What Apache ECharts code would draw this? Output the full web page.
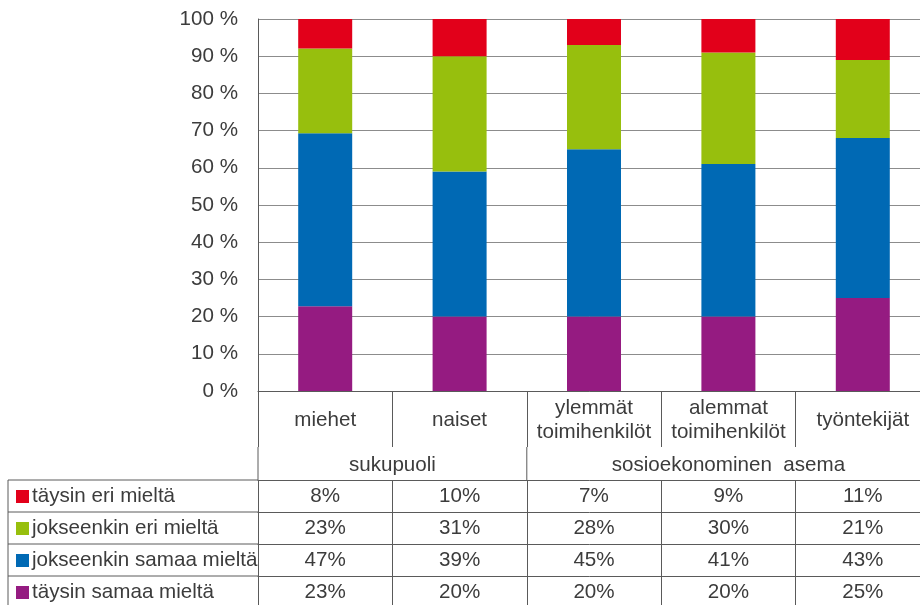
<!DOCTYPE html>
<html><head><meta charset="utf-8">
<script src="https://cdn.jsdelivr.net/npm/echarts@6/dist/echarts.min.js"></script>
<style>html,body{margin:0;padding:0;background:#fff}#c{width:920px;height:605px}</style>
</head><body><div id="c"></div>
<script>
// ---- data ----
const categories = ['miehet', 'naiset', 'ylemmät\ntoimihenkilöt', 'alemmat\ntoimihenkilöt', 'työntekijät'];
const groupNames = ['sukupuoli', 'sosioekonominen  asema'];
const groupSpans = [2, 3];
const seriesNames = ['täysin eri mieltä', 'jokseenkin eri mieltä', 'jokseenkin samaa mieltä', 'täysin samaa mieltä'];
const taysinEri = [8, 10, 7, 9, 11];
const jokseenkinEri = [23, 31, 28, 30, 21];
const jokseenkinSamaa = [47, 39, 45, 41, 43];
const taysinSamaa = [23, 20, 20, 20, 25];
const yTicks = [0, 10, 20, 30, 40, 50, 60, 70, 80, 90, 100];

// ---- styles / layout ----
const colors = ['#E2001A', '#97BF0D', '#0069B4', '#951B81'];
const FONT = 'Liberation Sans, Arial, sans-serif';
const FS = 20.6;
const TXT = '#3c3c3c';
const LINE = '#5a5a5a';
const gridLeft = 258, gridTop = 19, axisY = 391, gridWidth = 672;
const colW = gridWidth / categories.length;
const tableTop = 480, rowH = 32;

const rows = [taysinEri, jokseenkinEri, jokseenkinSamaa, taysinSamaa];
const totals = categories.map((_, i) => rows.reduce((s, r) => s + r[i], 0));
const pct = arr => arr.map((v, i) => v / totals[i] * 100);

const chart = echarts.init(document.getElementById('c'), null, {renderer: 'canvas'});

const xAxes = [{
  type: 'category', data: categories, gridIndex: 0, position: 'bottom',
  axisLine: {show: true, lineStyle: {color: LINE, width: 1}},
  axisTick: {show: true, length: 56, interval: 0, lineStyle: {color: LINE}},
  axisLabel: {interval: 0, margin: 29, verticalAlign: 'middle', lineHeight: 24,
    fontSize: FS, fontFamily: FONT, color: TXT}
}];
rows.forEach((r, ri) => {
  xAxes.push({
    type: 'category', data: categories, gridIndex: 0, position: 'bottom',
    offset: tableTop + ri * rowH - axisY,
    axisLine: {show: true, lineStyle: {color: LINE, width: 1}},
    axisTick: {show: true, length: rowH, interval: 0, lineStyle: {color: LINE}},
    axisLabel: {interval: 0, margin: rowH / 2, verticalAlign: 'middle',
      fontSize: FS, fontFamily: FONT, color: TXT,
      formatter: (v, i) => r[i] + '%'}
  });
});

const graphics = [];
for (let ri = 0; ri < rows.length; ri++) {
  const y = tableTop + ri * rowH;
  graphics.push({type: 'line', shape: {x1: 8, y1: y, x2: gridLeft, y2: y}, style: {stroke: LINE, lineWidth: 1}});
}
graphics.push({type: 'line', shape: {x1: 8, y1: tableTop, x2: 8, y2: 605}, style: {stroke: LINE, lineWidth: 1}});
graphics.push({type: 'line', shape: {x1: gridLeft, y1: axisY + 56, x2: gridLeft, y2: tableTop}, style: {stroke: LINE, lineWidth: 1}});
let acc = 0;
groupNames.forEach((g, gi) => {
  const x0 = gridLeft + acc * colW;
  const x1 = gridLeft + (acc + groupSpans[gi]) * colW;
  graphics.push({type: 'text', x: (x0 + x1) / 2, y: 465,
    style: {text: g, fontSize: FS, fontFamily: FONT, fill: TXT, align: 'center', verticalAlign: 'middle'}});
  if (gi > 0) {
    graphics.push({type: 'line', shape: {x1: x0, y1: axisY + 56, x2: x0, y2: tableTop}, style: {stroke: LINE, lineWidth: 1}});
  }
  acc += groupSpans[gi];
});

const seriesData = [taysinSamaa, jokseenkinSamaa, jokseenkinEri, taysinEri];
const seriesIdx = [3, 2, 1, 0];

chart.setOption({
  animation: false,
  color: colors,
  grid: {left: gridLeft, top: gridTop, width: gridWidth, bottom: 605 - axisY, containLabel: false, outerBoundsMode: 'none'},
  legend: {
    data: seriesNames, orient: 'vertical', left: 16, top: tableTop + 6, width: 240, height: 200, padding: 0,
    itemGap: 11, itemWidth: 13, itemHeight: 13, icon: 'rect', selectedMode: false,
    textStyle: {fontSize: FS, fontFamily: FONT, color: TXT, lineHeight: 20, padding: [0, 0, 0, -2]}
  },
  xAxis: xAxes,
  yAxis: {
    type: 'value', min: yTicks[0], max: yTicks[yTicks.length - 1], interval: yTicks[1] - yTicks[0],
    axisLine: {show: true, lineStyle: {color: LINE, width: 1}},
    axisTick: {show: false},
    axisLabel: {formatter: '{value} %', margin: 20, fontSize: FS, fontFamily: FONT, color: TXT},
    splitLine: {show: true, lineStyle: {color: '#8c8c8c', width: 1}}
  },
  series: seriesIdx.map((si, k) => ({
    name: seriesNames[si], type: 'bar', stack: 'total', xAxisIndex: 0, barWidth: 54,
    itemStyle: {color: colors[si]},
    data: pct(seriesData[k])
  })),
  graphic: graphics
});
</script></body></html>
